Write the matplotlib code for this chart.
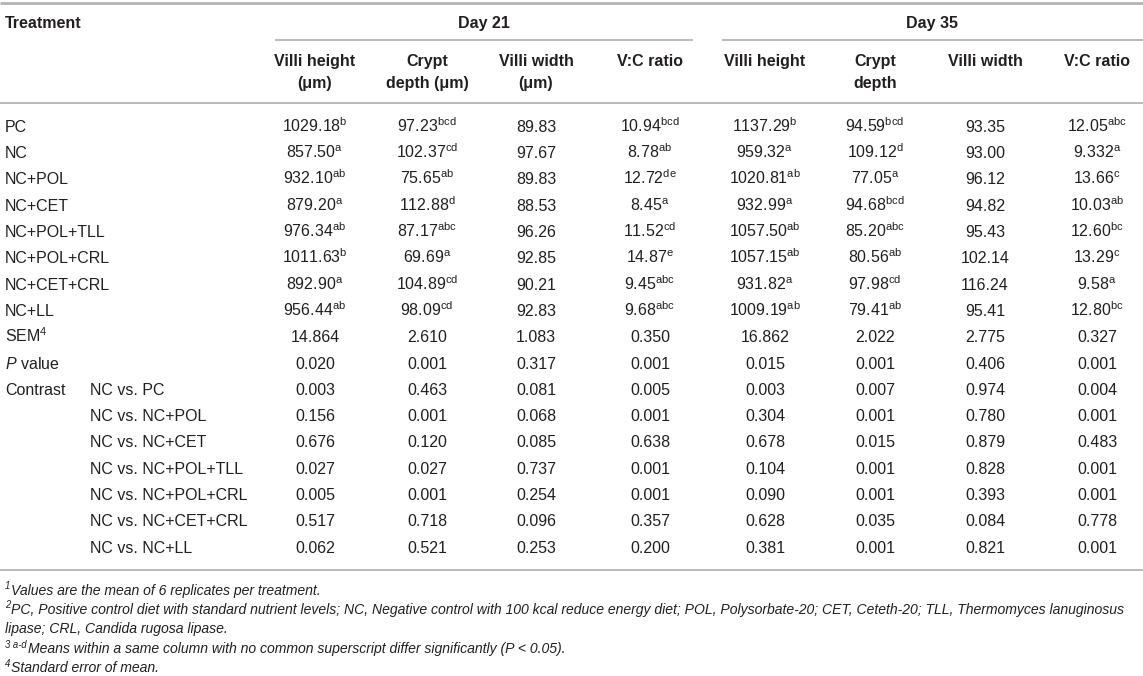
import matplotlib
matplotlib.use('Agg')
import matplotlib.pyplot as plt

# 표 데이터
treatments = ['PC', 'NC', 'NC+POL', 'NC+CET', 'NC+POL+TLL', 'NC+POL+CRL', 'NC+CET+CRL', 'NC+LL']

d21_villi_height = ['1029.18', '857.50', '932.10', '879.20', '976.34', '1011.63', '892.90', '956.44']
d21_villi_height_sup = ['b', 'a', 'ab', 'a', 'ab', 'b', 'a', 'ab']
d21_crypt_depth = ['97.23', '102.37', '75.65', '112.88', '87.17', '69.69', '104.89', '98.09']
d21_crypt_depth_sup = ['bcd', 'cd', 'ab', 'd', 'abc', 'a', 'cd', 'cd']
d21_villi_width = ['89.83', '97.67', '89.83', '88.53', '96.26', '92.85', '90.21', '92.83']
d21_villi_width_sup = ['', '', '', '', '', '', '', '']
d21_vc_ratio = ['10.94', '8.78', '12.72', '8.45', '11.52', '14.87', '9.45', '9.68']
d21_vc_ratio_sup = ['bcd', 'ab', 'de', 'a', 'cd', 'e', 'abc', 'abc']

d35_villi_height = ['1137.29', '959.32', '1020.81', '932.99', '1057.50', '1057.15', '931.82', '1009.19']
d35_villi_height_sup = ['b', 'a', 'ab', 'a', 'ab', 'ab', 'a', 'ab']
d35_crypt_depth = ['94.59', '109.12', '77.05', '94.68', '85.20', '80.56', '97.98', '79.41']
d35_crypt_depth_sup = ['bcd', 'd', 'a', 'bcd', 'abc', 'ab', 'cd', 'ab']
d35_villi_width = ['93.35', '93.00', '96.12', '94.82', '95.43', '102.14', '116.24', '95.41']
d35_villi_width_sup = ['', '', '', '', '', '', '', '']
d35_vc_ratio = ['12.05', '9.332', '13.66', '10.03', '12.60', '13.29', '9.58', '12.80']
d35_vc_ratio_sup = ['abc', 'a', 'c', 'ab', 'bc', 'c', 'a', 'bc']

sem = ['14.864', '2.610', '1.083', '0.350', '16.862', '2.022', '2.775', '0.327']
p_value = ['0.020', '0.001', '0.317', '0.001', '0.015', '0.001', '0.406', '0.001']

contrasts = ['NC vs. PC', 'NC vs. NC+POL', 'NC vs. NC+CET', 'NC vs. NC+POL+TLL',
             'NC vs. NC+POL+CRL', 'NC vs. NC+CET+CRL', 'NC vs. NC+LL']
contrast_values = [
    ['0.003', '0.463', '0.081', '0.005', '0.003', '0.007', '0.974', '0.004'],
    ['0.156', '0.001', '0.068', '0.001', '0.304', '0.001', '0.780', '0.001'],
    ['0.676', '0.120', '0.085', '0.638', '0.678', '0.015', '0.879', '0.483'],
    ['0.027', '0.027', '0.737', '0.001', '0.104', '0.001', '0.828', '0.001'],
    ['0.005', '0.001', '0.254', '0.001', '0.090', '0.001', '0.393', '0.001'],
    ['0.517', '0.718', '0.096', '0.357', '0.628', '0.035', '0.084', '0.778'],
    ['0.062', '0.521', '0.253', '0.200', '0.381', '0.001', '0.821', '0.001'],
]

d21_headers = ['Villi height\n(μm)', 'Crypt\ndepth (μm)', 'Villi width\n(μm)', 'V:C ratio']
d35_headers = ['Villi height', 'Crypt\ndepth', 'Villi width', 'V:C ratio']

footnotes = [
    ('1', 'Values are the mean of 6 replicates per treatment.'),
    ('2', 'PC, Positive control diet with standard nutrient levels; NC, Negative control with 100 kcal reduce energy diet; '
          'POL, Polysorbate-20; CET, Ceteth-20; TLL, Thermomyces lanuginosus'),
    ('', 'lipase; CRL, Candida rugosa lipase.'),
    ('3 a-d', 'Means within a same column with no common superscript differ significantly (P < 0.05).'),
    ('4', 'Standard error of mean.'),
]

# 스타일
plt.rcParams['font.family'] = 'Liberation Sans'
plt.rcParams['mathtext.fontset'] = 'custom'
plt.rcParams['mathtext.rm'] = 'Liberation Sans'
plt.rcParams['mathtext.it'] = 'Liberation Sans:italic'
plt.rcParams['mathtext.bf'] = 'Liberation Sans:bold'

TXT = '#231f20'
RULE = '#b4b4b4'
FS = 11.5
FN_FS = 10.1

fig = plt.figure(figsize=(11.43, 6.76), dpi=100)
ax = fig.add_axes([0, 0, 1, 1])
ax.set_xlim(0, 1143)
ax.set_ylim(676, 0)
ax.axis('off')

col_x = [315, 427, 536, 650, 765, 875, 985, 1097]
row0 = 126
row_h = 26.3
base = 5.8  # 행 중심 -> 기준선


def sup_text(v, s):
    if s:
        return v + r'$^{\mathrm{' + s + '}}$'
    return v


def put(x, y, s, ha='center', **kw):
    ax.text(x, y + base, s, ha=ha, va='baseline', fontsize=kw.pop('fontsize', FS), color=TXT, **kw)


# 가로선
ax.plot([0, 1143], [3, 3], color=RULE, lw=2.0, solid_capstyle='butt')
ax.plot([275, 693], [40, 40], color=RULE, lw=1.3, solid_capstyle='butt')
ax.plot([722, 1143], [40, 40], color=RULE, lw=1.3, solid_capstyle='butt')
ax.plot([0, 1143], [103, 103], color=RULE, lw=1.3, solid_capstyle='butt')
ax.plot([0, 1143], [570, 570], color=RULE, lw=1.3, solid_capstyle='butt')

# 헤더
put(5, 22, 'Treatment', ha='left', fontweight='bold')
put((275 + 693) / 2, 22, 'Day 21', fontweight='bold')
put((722 + 1143) / 2, 22, 'Day 35', fontweight='bold')
for x, h in zip(col_x, d21_headers + d35_headers):
    for k, line in enumerate(h.split('\n')):
        put(x, 60 + 22 * k, line, fontweight='bold')

# 처리구 행
groups = [
    (d21_villi_height, d21_villi_height_sup), (d21_crypt_depth, d21_crypt_depth_sup),
    (d21_villi_width, d21_villi_width_sup), (d21_vc_ratio, d21_vc_ratio_sup),
    (d35_villi_height, d35_villi_height_sup), (d35_crypt_depth, d35_crypt_depth_sup),
    (d35_villi_width, d35_villi_width_sup), (d35_vc_ratio, d35_vc_ratio_sup),
]
for i, t in enumerate(treatments):
    y = row0 + row_h * i
    put(5, y, t, ha='left')
    for x, (vals, sups) in zip(col_x, groups):
        put(x, y, sup_text(vals[i], sups[i]))

r = len(treatments)
y = row0 + row_h * r
put(5, y, r'SEM$^{4}$', ha='left')
for x, v in zip(col_x, sem):
    put(x, y, v)

y = row0 + row_h * (r + 1)
put(5, y, r'$\mathit{P}$ value', ha='left')
for x, v in zip(col_x, p_value):
    put(x, y, v)

for j, (c, vals) in enumerate(zip(contrasts, contrast_values)):
    y = row0 + row_h * (r + 2 + j)
    if j == 0:
        put(5, y, 'Contrast', ha='left')
    put(90, y, c, ha='left')
    for x, v in zip(col_x, vals):
        put(x, y, v)

# 각주 (위첨자는 따로 그리고 본문은 그 뒤에 이어서)
fig.canvas.draw()
renderer = fig.canvas.get_renderer()
fn_y = [590, 609.5, 629, 648.5, 668]
for yy, (mark, txt) in zip(fn_y, footnotes):
    x0 = 5
    if mark:
        m = ax.text(x0, yy - 1, mark, ha='left', va='baseline', fontsize=FN_FS * 0.68,
                    color=TXT, style='italic')
        bb = m.get_window_extent(renderer)
        x0 = x0 + bb.width + 1
    ax.text(x0, yy + 4.5, txt, ha='left', va='baseline', fontsize=FN_FS, color=TXT, style='italic')

fig.savefig('out.png', dpi=100)
